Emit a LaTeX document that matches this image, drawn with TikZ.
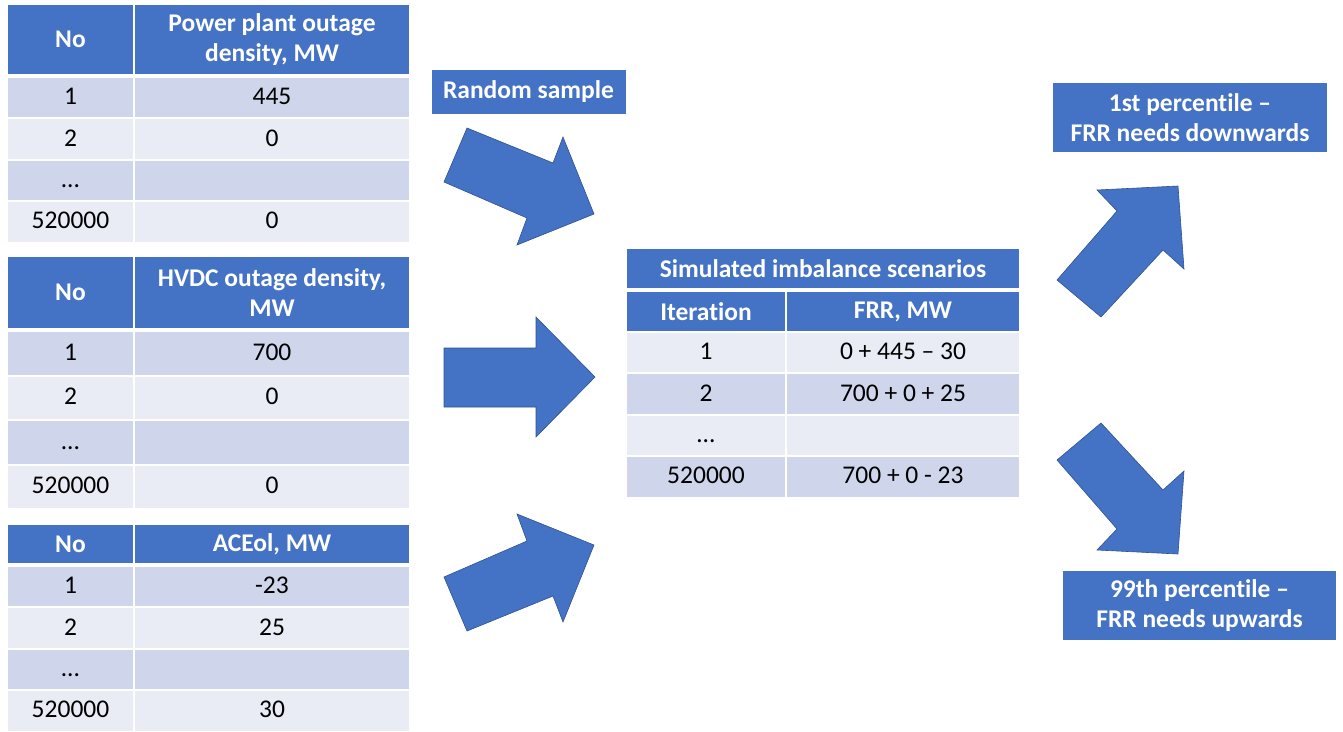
\documentclass[tikz,border=0pt]{standalone}
\usepackage{fontspec}
\setmainfont[Ligatures=NoCommon]{Carlito}
\usetikzlibrary{positioning}
\definecolor{hdblue}{HTML}{4472C4}
\definecolor{rowdark}{HTML}{CFD5EA}
\definecolor{rowlight}{HTML}{E9EBF5}
\definecolor{edgeblue}{HTML}{2F528F}
\tikzset{
    x = 1pt, y = -1pt,                                      % Work in slide pixels, y running down
    cell/.style = {draw=white, line width=2pt, outer sep=0pt, inner sep=2pt,
                   minimum height=41.4pt, font=\fontsize{25.5}{30}\selectfont},
    hcell/.style = {cell, fill=hdblue, text=white, align=center,
                    font=\fontsize{25.5}{30}\selectfont\bfseries},  % Header cells
    dcell/.style = {cell, fill=rowdark, text height=15pt, text depth=1pt},   % Dark rows
    lcell/.style = {cell, fill=rowlight, text height=15pt, text depth=1pt},  % Light rows
    narrow/.style = {minimum width=127pt},                 % "No" column
    wide/.style = {minimum width=276pt},                   % Value column
    tallrow/.style = {minimum height=44.5pt},
    note/.style = {fill=hdblue, text=white, align=center, inner sep=2pt,
                   font=\fontsize{25.5}{30}\selectfont\bfseries},
    bigarrow/.style = {fill=hdblue, draw=edgeblue, line width=0.6pt, line join=miter}
}

\begin{document}
\begin{tikzpicture}
    \useasboundingbox (0,0) rectangle (1343,731);

    % Power plant outage table
    \node [hcell, narrow, minimum height=71pt, anchor=north west] (ppNo) at (7,4) {No};
    \node [hcell, wide, minimum height=71pt, right=0pt of ppNo] (ppMW) {Power plant outage\\density, MW};
    \node [dcell, narrow, below=2pt of ppNo] (pp1) {1};
    \node [dcell, wide, right=0pt of pp1] (pp1v) {445};
    \node [lcell, narrow, below=0pt of pp1] (pp2) {2};
    \node [lcell, wide, right=0pt of pp2] (pp2v) {0};
    \node [dcell, narrow, below=0pt of pp2] (pp3) {…};
    \node [dcell, wide, right=0pt of pp3] (pp3v) {};
    \node [lcell, narrow, below=0pt of pp3] (pp4) {520000};
    \node [lcell, wide, right=0pt of pp4] (pp4v) {0};

    % HVDC outage table
    \node [hcell, narrow, minimum height=73pt, anchor=north west] (hvNo) at (7,256) {No};
    \node [hcell, wide, minimum height=73pt, right=0pt of hvNo] (hvMW) {HVDC outage density,\\MW};
    \node [dcell, narrow, tallrow, below=2pt of hvNo] (hv1) {1};
    \node [dcell, wide, tallrow, right=0pt of hv1] (hv1v) {700};
    \node [lcell, narrow, tallrow, below=0pt of hv1] (hv2) {2};
    \node [lcell, wide, tallrow, right=0pt of hv2] (hv2v) {0};
    \node [dcell, narrow, tallrow, below=0pt of hv2] (hv3) {…};
    \node [dcell, wide, tallrow, right=0pt of hv3] (hv3v) {};
    \node [lcell, narrow, tallrow, below=0pt of hv3] (hv4) {520000};
    \node [lcell, wide, tallrow, right=0pt of hv4] (hv4v) {0};

    % ACEol table
    \node [hcell, narrow, minimum height=40pt, anchor=north west] (acNo) at (7,524) {No};
    \node [hcell, wide, minimum height=40pt, right=0pt of acNo] (acMW) {ACEol, MW};
    \node [dcell, narrow, below=2pt of acNo] (ac1) {1};
    \node [dcell, wide, right=0pt of ac1] (ac1v) {-23};
    \node [lcell, narrow, below=0pt of ac1] (ac2) {2};
    \node [lcell, wide, right=0pt of ac2] (ac2v) {25};
    \node [dcell, narrow, below=0pt of ac2] (ac3) {…};
    \node [dcell, wide, right=0pt of ac3] (ac3v) {};
    \node [lcell, narrow, below=0pt of ac3] (ac4) {520000};
    \node [lcell, wide, right=0pt of ac4] (ac4v) {30};

    % Simulated scenarios table
    \node [hcell, minimum width=394pt, minimum height=41pt, anchor=north west] (simTitle) at (626,248) {Simulated imbalance scenarios};
    \node [hcell, minimum width=160pt, minimum height=41pt, below right=2pt and 0pt of simTitle.south west] (simIt) {Iteration};
    \node [hcell, minimum width=234pt, minimum height=41pt, right=0pt of simIt] (simFRR) {FRR, MW};
    \node [lcell, minimum width=160pt, below=0pt of simIt] (sim1) {1};
    \node [lcell, minimum width=234pt, right=0pt of sim1] (sim1v) {0 + 445 – 30};
    \node [dcell, minimum width=160pt, below=0pt of sim1] (sim2) {2};
    \node [dcell, minimum width=234pt, right=0pt of sim2] (sim2v) {700 + 0 + 25};
    \node [lcell, minimum width=160pt, below=0pt of sim2] (sim3) {…};
    \node [lcell, minimum width=234pt, right=0pt of sim3] (sim3v) {};
    \node [dcell, minimum width=160pt, below=0pt of sim3] (sim4) {520000};
    \node [dcell, minimum width=234pt, right=0pt of sim4] (sim4v) {700 + 0 - 23};

    % Text boxes
    \node [note, minimum width=194pt, minimum height=44pt] (sample) at (528.5,92) {Random sample};
    \node [note, minimum width=274pt, minimum height=69pt] (lowPct) at (1190,117.5) {1st percentile –\\FRR needs downwards};
    \node [note, minimum width=273pt, minimum height=69pt] (highPct) at (1199.5,605.5) {99th percentile –\\FRR needs upwards};

    % Block arrows
    \draw [bigarrow] (467,128) -- (553,163) -- (563,137) -- (594,214) -- (517,245) -- (527,218) -- (444,182) -- cycle;
    \draw [bigarrow] (444,348) -- (536,348) -- (536,317) -- (595,377) -- (536,437) -- (536,407) -- (444,407) -- cycle;
    \draw [bigarrow] (467,631) -- (553,596) -- (563,622) -- (594,545) -- (517,514) -- (527,541) -- (444,577) -- cycle;
    \draw [bigarrow] (1057,280) -- (1117,211) -- (1097,190) -- (1178,186) -- (1184,269) -- (1163,250) -- (1101,317) -- cycle;
    \draw [bigarrow] (1057,460) -- (1117,529) -- (1097,550) -- (1178,554) -- (1184,471) -- (1163,490) -- (1101,423) -- cycle;
\end{tikzpicture}
\end{document}
